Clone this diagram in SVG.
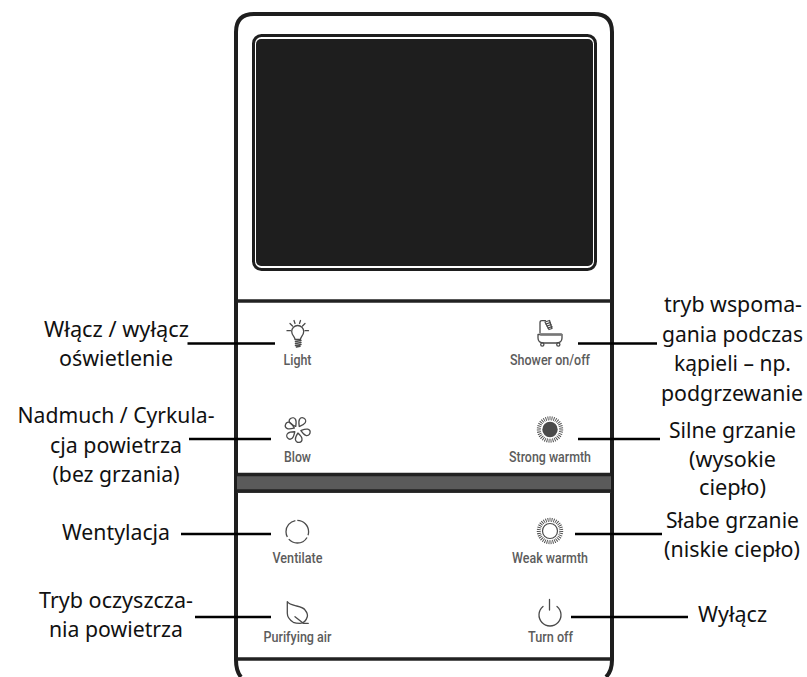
<svg xmlns="http://www.w3.org/2000/svg" width="807" height="677" viewBox="0 0 807 677">
<style>
.cap{font-family:Roboto,"Liberation Sans",sans-serif;font-size:15px;font-weight:500;fill:#5c5c5c;text-anchor:middle}
.lab{font-family:"Noto Sans","Open Sans",sans-serif;font-size:21px;fill:#111;text-anchor:middle}
.ic{fill:none;stroke:#4a4a4a;stroke-width:1.3;stroke-linecap:round;stroke-linejoin:round}
.ln{stroke:#000;stroke-width:2.4;fill:none}
.bar{stroke:#222;stroke-width:3.4;fill:none}
.rays{fill:none;stroke:#4a4a4a;stroke-width:4;stroke-dasharray:.9 1.1}
</style>
<defs>
<path id="petal" d="M0 -3.500C-2 -6 -3.300 -7.500 -3.300 -9.700A3.300 3.300 0 0 1 3.300 -9.700C3.300 -7.500 2 -6 0 -3.500Z"/>
</defs>
<rect width="807" height="677" fill="#fff"/>
<g id="device">
<path d="M241 677Q236 671 236 660V32Q236 14 254 14H594Q612 14 612 32V660Q612 671 606 677" fill="none" stroke="#1e1e1e" stroke-width="4"/>
<rect x="253.500" y="35.500" width="342" height="234" rx="8" fill="#fff" stroke="#1e1e1e" stroke-width="3"/>
<rect x="256" y="39" width="337" height="227" rx="5" fill="#1e1e1e"/>
<path class="bar" d="M237 301H611"/>
<rect x="237" y="473" width="374" height="20" fill="#5a5a5a"/>
<path class="bar" d="M237 474.500H611M237 491H611"/>
<path class="bar" d="M237 659H611"/>
</g>
<g id="connectors">
<path class="ln" d="M187.500 343.500H275M189 439H271M181 534H271M195 617H271M578 343.500H657M578 439H660M575 534H662M571 617H688"/>
</g>
<g id="light">
<g class="ic"><path d="M295 339.500C295 336.500 291.700 335.500 291.700 331.500A6 6 0 0 1 303.700 331.500C303.700 335.500 300.500 336.500 300.500 339.500Z"/><path d="M295.500 341.500L301 340.500M295.500 343.500L301 342.500M295.500 345.500L301 344.500M296.500 347L300 346.300" stroke-width="1.500"/><path d="M287 330.700H290.500M305 330.700H308.500M290 323.500L292.500 326M305 323.500L302.500 326M294 320.500L295 323.500M300.500 320.500L299.500 323.500"/></g>
<text class="cap" x="297.500" y="365" textLength="28" lengthAdjust="spacingAndGlyphs">Light</text>
<text class="lab" x="116.500" y="337" textLength="145" lengthAdjust="spacingAndGlyphs">Włącz / wyłącz</text><text class="lab" x="116" y="365.700" textLength="114" lengthAdjust="spacingAndGlyphs">oświetlenie</text>
</g>
<g id="blow">
<g class="ic"><use href="#petal" transform="translate(297.500 429.500) rotate(-30)"/><use href="#petal" transform="translate(297.500 429.500) rotate(30)"/><use href="#petal" transform="translate(297.500 429.500) rotate(107)"/><use href="#petal" transform="translate(297.500 429.500) rotate(173)"/><use href="#petal" transform="translate(297.500 429.500) rotate(230)"/><use href="#petal" transform="translate(297.500 429.500) rotate(294)"/></g>
<text class="cap" x="297.500" y="461.700" textLength="27" lengthAdjust="spacingAndGlyphs">Blow</text>
<text class="lab" x="116" y="423.300" textLength="197" lengthAdjust="spacingAndGlyphs">Nadmuch / Cyrkula-</text><text class="lab" x="116" y="452.700" textLength="132" lengthAdjust="spacingAndGlyphs">cja powietrza</text><text class="lab" x="116" y="482" textLength="127" lengthAdjust="spacingAndGlyphs">(bez grzania)</text>
</g>
<g id="ventilate">
<circle class="ic" cx="297.300" cy="531.700" r="11.300" stroke-dasharray="21.200 2.470" transform="rotate(-90 297.300 531.700)" style="stroke-linecap:butt"/>
<text class="cap" x="297.500" y="563" textLength="50" lengthAdjust="spacingAndGlyphs">Ventilate</text>
<text class="lab" x="116" y="540" textLength="108" lengthAdjust="spacingAndGlyphs">Wentylacja</text>
</g>
<g id="purifying">
<g class="ic"><path d="M287.300 601.700C289 604.500 292 605 296.700 606C301 607 304 608 305 610C307 612.500 307.800 615 307.300 616.700C306 621 303 623.300 300 623.300C297 623.300 295 623 293.300 622.300C289 619.500 287.300 617 287.300 613.300Z"/><path d="M295 616.700L303.300 623.300H308.300"/></g>
<text class="cap" x="297.500" y="642" textLength="68" lengthAdjust="spacingAndGlyphs">Purifying air</text>
<text class="lab" x="116" y="608" textLength="154" lengthAdjust="spacingAndGlyphs">Tryb oczyszcza-</text><text class="lab" x="116" y="636.700" textLength="134" lengthAdjust="spacingAndGlyphs">nia powietrza</text>
</g>
<g id="shower">
<g class="ic"><path d="M540 333V322.500Q540 320.700 542 320.700H545.500"/><path d="M545 322L549.500 320.500L552 328.500L549 329.500Z"/><path d="M538 334.500H562V338Q562 343 556 343H544Q538 343 538 338Z"/><circle cx="542.300" cy="344.500" r="1.600"/><circle cx="558.300" cy="344.500" r="1.600"/><path d="M541 334.500H561" style="stroke-width:2.400;stroke:#777"/><path d="M546 324L550 322.700M547 326L551 324.700M548 328L552 326.700"/></g>
<text class="cap" x="550" y="365" textLength="80" lengthAdjust="spacingAndGlyphs">Shower on/off</text>
<text class="lab" x="733" y="312" textLength="138" lengthAdjust="spacingAndGlyphs">tryb wspoma-</text><text class="lab" x="732.500" y="342.300" textLength="141" lengthAdjust="spacingAndGlyphs">gania podczas</text><text class="lab" x="732.500" y="370.700" textLength="117" lengthAdjust="spacingAndGlyphs">kąpieli – np.</text><text class="lab" x="732" y="400.700" textLength="142" lengthAdjust="spacingAndGlyphs">podgrzewanie</text>
</g>
<g id="strong">
<circle cx="550" cy="429.500" r="7.700" fill="#4a4a4a"/><circle class="rays" cx="550" cy="429.500" r="11.200"/>
<text class="cap" x="550" y="461.700" textLength="82" lengthAdjust="spacingAndGlyphs">Strong warmth</text>
<text class="lab" x="732.500" y="438.300" textLength="127" lengthAdjust="spacingAndGlyphs">Silne grzanie</text><text class="lab" x="732.500" y="466.700" textLength="87" lengthAdjust="spacingAndGlyphs">(wysokie</text><text class="lab" x="732.500" y="495" textLength="67" lengthAdjust="spacingAndGlyphs">ciepło)</text>
</g>
<g id="weak">
<circle cx="550" cy="531" r="7.500" fill="none" stroke="#4a4a4a" stroke-width="1.200"/><circle class="rays" cx="550" cy="531" r="11.200"/>
<text class="cap" x="550" y="563" textLength="76" lengthAdjust="spacingAndGlyphs">Weak warmth</text>
<text class="lab" x="732.500" y="528" textLength="133" lengthAdjust="spacingAndGlyphs">Słabe grzanie</text><text class="lab" x="732" y="556.700" textLength="136" lengthAdjust="spacingAndGlyphs">(niskie ciepło)</text>
</g>
<g id="turnoff">
<g class="ic"><path d="M543 606.500A11 11 0 1 0 557 606.500M549.500 599.500V610"/></g>
<text class="cap" x="550.500" y="642" textLength="45" lengthAdjust="spacingAndGlyphs">Turn off</text>
<text class="lab" x="732.500" y="621.700" textLength="69" lengthAdjust="spacingAndGlyphs">Wyłącz</text>
</g>
</svg>
